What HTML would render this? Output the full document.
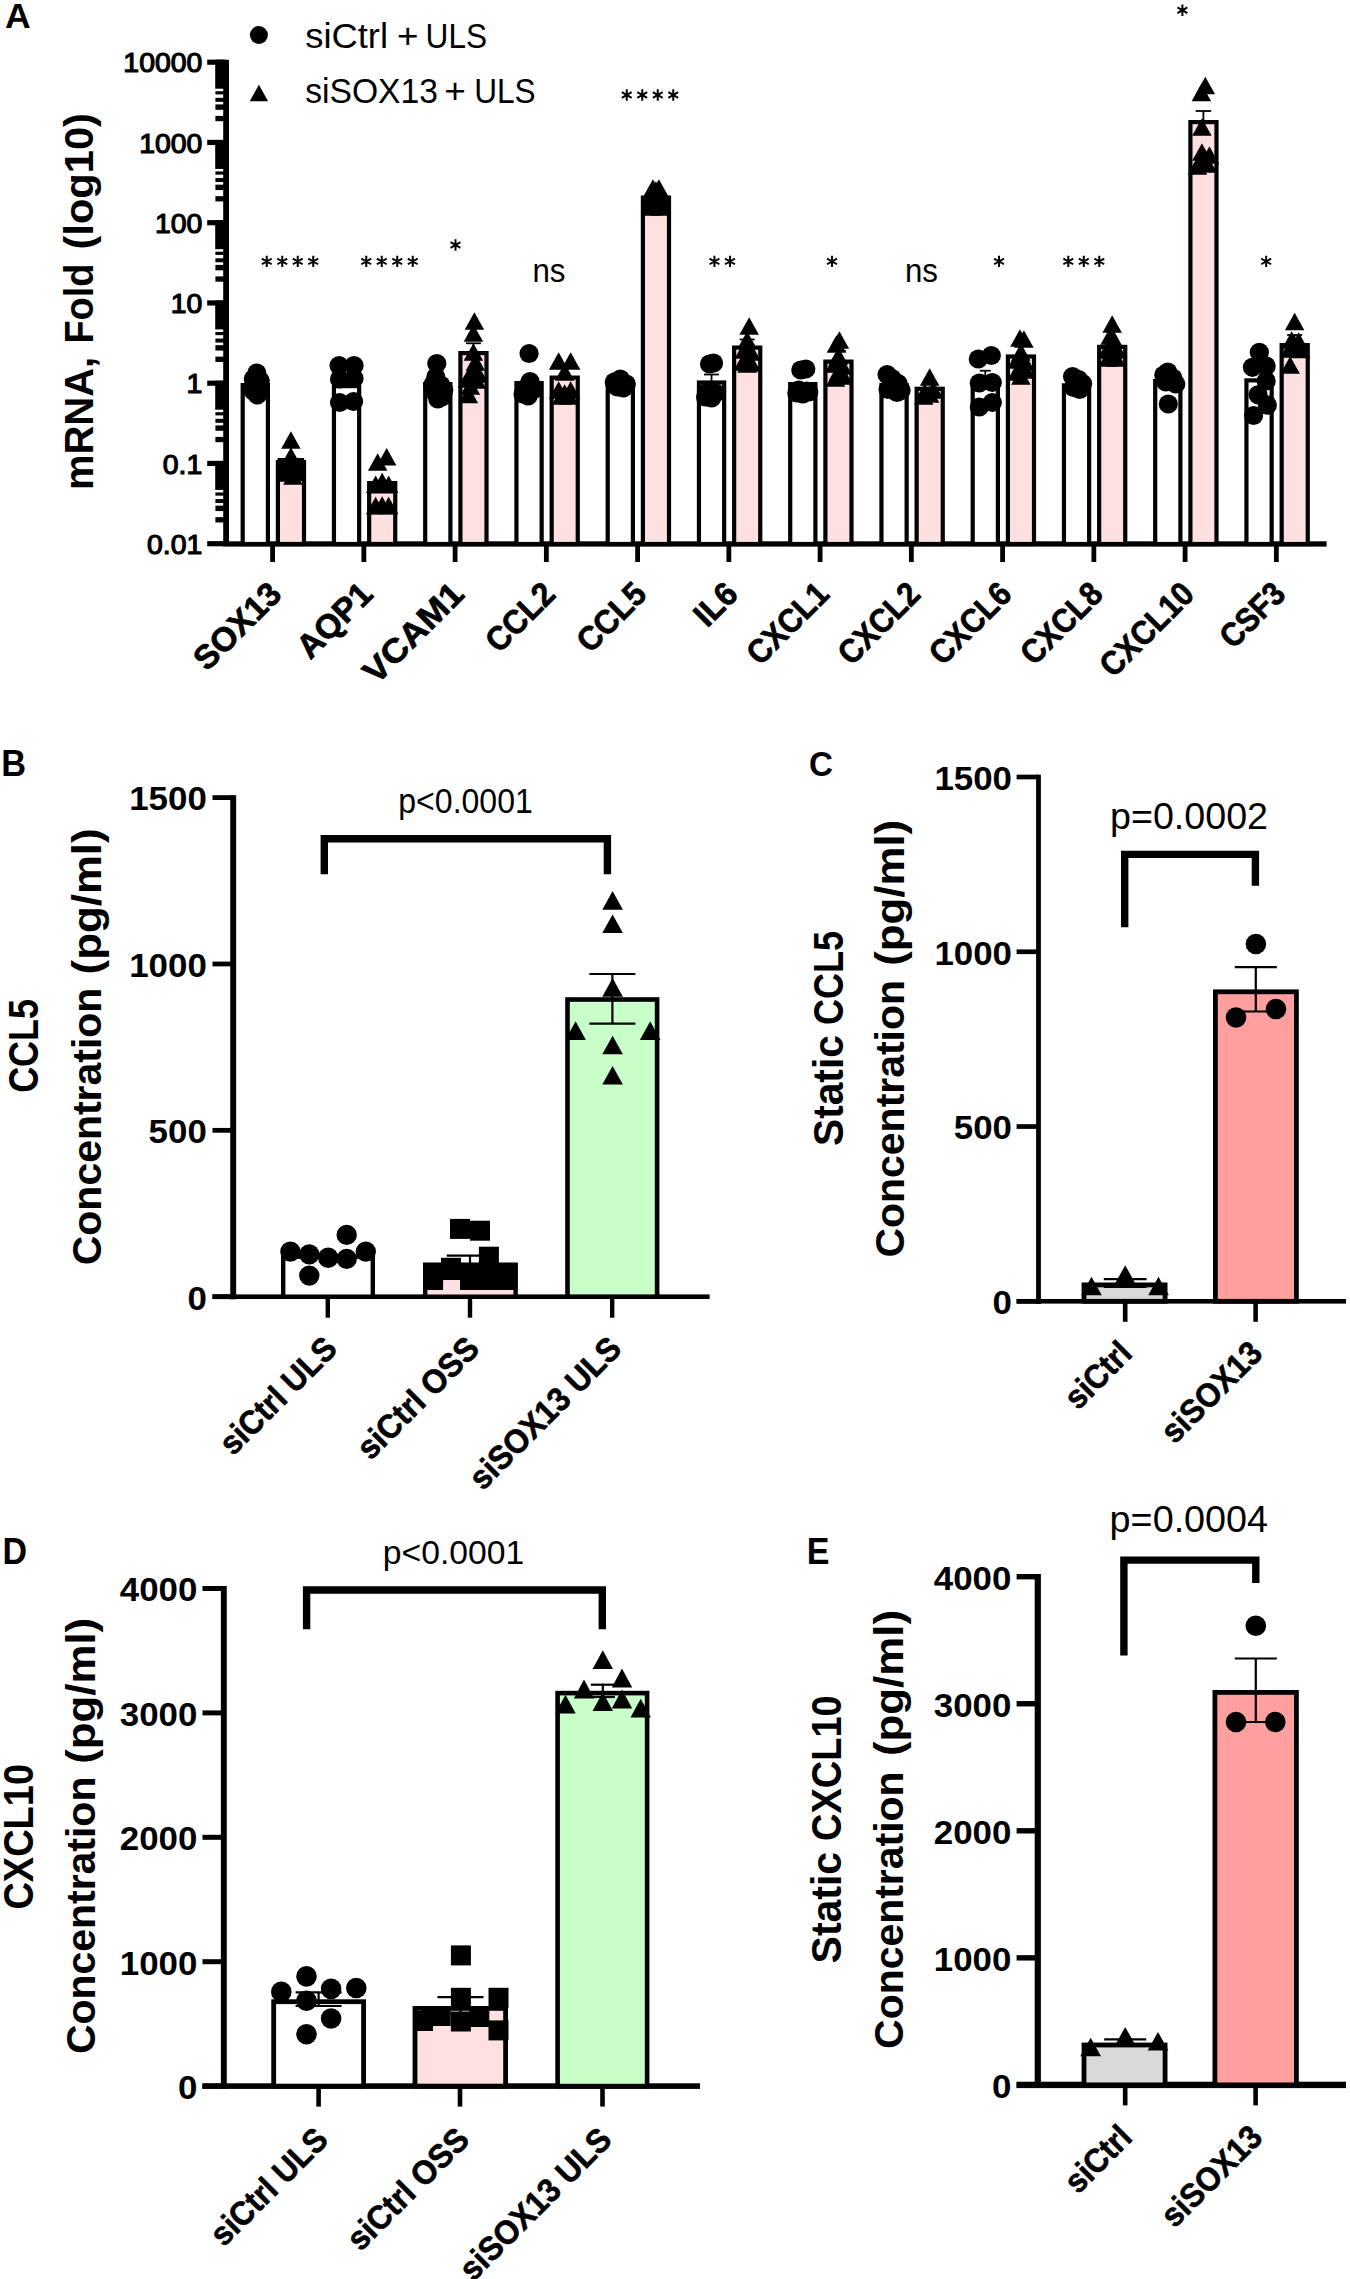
<!DOCTYPE html>
<html><head><meta charset="utf-8"><title>Figure</title>
<style>
html,body{margin:0;padding:0;background:#fff;}
svg{display:block;font-family:"Liberation Sans",sans-serif;}
</style></head>
<body>
<svg width="1350" height="2279" viewBox="0 0 1350 2279">
<rect width="1350" height="2279" fill="#fff"/>
<g id="pA">
<text transform="translate(4.9 27.6) scale(1 1)" x="0" y="0" font-size="35.6" font-weight="bold">A</text>
<circle cx="258.9" cy="35" r="9"/>
<path d="M258.9 84.75L268.1 101.25H249.7Z"/>
<text x="305.2" y="47.8" font-size="35.3" textLength="82.9" lengthAdjust="spacingAndGlyphs">siCtrl</text>
<text x="396.9" y="47.8" font-size="35.3" textLength="21.5" lengthAdjust="spacingAndGlyphs">+</text>
<text x="425.6" y="47.8" font-size="35.3" textLength="61.5" lengthAdjust="spacingAndGlyphs">ULS</text>
<text x="305.2" y="103" font-size="35.3" textLength="132.7" lengthAdjust="spacingAndGlyphs">siSOX13</text>
<text x="444.3" y="103" font-size="35.3" textLength="21.6" lengthAdjust="spacingAndGlyphs">+</text>
<text x="474.2" y="103" font-size="35.3" textLength="61.4" lengthAdjust="spacingAndGlyphs">ULS</text>
<text transform="translate(93.3 490.1) rotate(-90)" x="0" y="0" font-size="40.5" font-weight="bold" textLength="133.3" lengthAdjust="spacingAndGlyphs">mRNA,</text>
<text transform="translate(93.3 343.6) rotate(-90)" x="0" y="0" font-size="40.5" font-weight="bold" textLength="80" lengthAdjust="spacingAndGlyphs">Fold</text>
<text transform="translate(93.3 249.5) rotate(-90)" x="0" y="0" font-size="40.5" font-weight="bold" textLength="136.5" lengthAdjust="spacingAndGlyphs">(log10)</text>
<rect x="223.2" y="59.8" width="5.8" height="486.2" fill="#000"/>
<rect x="207.2" y="59.6" width="18" height="5.2" fill="#000"/>
<text x="202.3" y="72.4" font-size="28.4" text-anchor="end" stroke="#000" stroke-width="1.2">10000</text>
<rect x="215.2" y="59.7" width="9" height="29" fill="#000"/>
<rect x="215.4" y="91.2" width="9" height="3.2" fill="#000"/>
<rect x="215.4" y="97.8" width="9" height="4" fill="#000"/>
<rect x="215.4" y="104.4" width="9" height="5.4" fill="#000"/>
<rect x="215.4" y="115.9" width="9" height="5.3" fill="#000"/>
<rect x="207.2" y="139.85" width="18" height="5.2" fill="#000"/>
<text x="202.3" y="152.65" font-size="28.4" text-anchor="end" stroke="#000" stroke-width="1.2">1000</text>
<rect x="215.2" y="139.95" width="9" height="29" fill="#000"/>
<rect x="215.4" y="171.45" width="9" height="3.2" fill="#000"/>
<rect x="215.4" y="178.05" width="9" height="4" fill="#000"/>
<rect x="215.4" y="184.65" width="9" height="5.4" fill="#000"/>
<rect x="215.4" y="196.15" width="9" height="5.3" fill="#000"/>
<rect x="207.2" y="220.1" width="18" height="5.2" fill="#000"/>
<text x="202.3" y="232.9" font-size="28.4" text-anchor="end" stroke="#000" stroke-width="1.2">100</text>
<rect x="215.2" y="220.2" width="9" height="29" fill="#000"/>
<rect x="215.4" y="251.7" width="9" height="3.2" fill="#000"/>
<rect x="215.4" y="258.3" width="9" height="4" fill="#000"/>
<rect x="215.4" y="264.9" width="9" height="5.4" fill="#000"/>
<rect x="215.4" y="276.4" width="9" height="5.3" fill="#000"/>
<rect x="207.2" y="300.35" width="18" height="5.2" fill="#000"/>
<text x="202.3" y="313.15" font-size="28.4" text-anchor="end" stroke="#000" stroke-width="1.2">10</text>
<rect x="215.2" y="300.45" width="9" height="29" fill="#000"/>
<rect x="215.4" y="331.95" width="9" height="3.2" fill="#000"/>
<rect x="215.4" y="338.55" width="9" height="4" fill="#000"/>
<rect x="215.4" y="345.15" width="9" height="5.4" fill="#000"/>
<rect x="215.4" y="356.65" width="9" height="5.3" fill="#000"/>
<rect x="207.2" y="380.6" width="18" height="5.2" fill="#000"/>
<text x="202.3" y="393.4" font-size="28.4" text-anchor="end" stroke="#000" stroke-width="1.2">1</text>
<rect x="215.2" y="380.7" width="9" height="29" fill="#000"/>
<rect x="215.4" y="412.2" width="9" height="3.2" fill="#000"/>
<rect x="215.4" y="418.8" width="9" height="4" fill="#000"/>
<rect x="215.4" y="425.4" width="9" height="5.4" fill="#000"/>
<rect x="215.4" y="436.9" width="9" height="5.3" fill="#000"/>
<rect x="207.2" y="460.85" width="18" height="5.2" fill="#000"/>
<text x="202.3" y="473.65" font-size="28.4" text-anchor="end" stroke="#000" stroke-width="1.2">0.1</text>
<rect x="215.2" y="460.95" width="9" height="29" fill="#000"/>
<rect x="215.4" y="492.45" width="9" height="3.2" fill="#000"/>
<rect x="215.4" y="499.05" width="9" height="4" fill="#000"/>
<rect x="215.4" y="505.65" width="9" height="5.4" fill="#000"/>
<rect x="215.4" y="517.15" width="9" height="5.3" fill="#000"/>
<rect x="207.2" y="541.1" width="18" height="5.2" fill="#000"/>
<text x="202.3" y="553.9" font-size="28.4" text-anchor="end" stroke="#000" stroke-width="1.2">0.01</text>
<rect x="223.2" y="541.3" width="1103.4" height="5.3" fill="#000"/>
<rect x="270.2" y="544" width="4.8" height="18" fill="#000"/>
<rect x="242.7" y="385.1" width="25.2" height="158.9" fill="#fff" stroke="#000" stroke-width="4.2"/>
<rect x="277.9" y="462.1" width="26.1" height="81.9" fill="#ffe0e0" stroke="#000" stroke-width="4.2"/>
<text transform="translate(275.3 587.8) rotate(-45)" x="0" y="11.56" font-size="33.5" text-anchor="end" font-weight="bold" stroke="#000" stroke-width="0.7" stroke-linejoin="round" textLength="108" lengthAdjust="spacingAndGlyphs">SOX13</text>
<rect x="361.45" y="544" width="4.8" height="18" fill="#000"/>
<rect x="333.95" y="386.1" width="25.2" height="157.9" fill="#fff" stroke="#000" stroke-width="4.2"/>
<rect x="369.15" y="483.1" width="26.1" height="60.9" fill="#ffe0e0" stroke="#000" stroke-width="4.2"/>
<text transform="translate(366.55 587.8) rotate(-45)" x="0" y="11.56" font-size="33.5" text-anchor="end" font-weight="bold" stroke="#000" stroke-width="0.7" stroke-linejoin="round">AQP1</text>
<rect x="452.7" y="544" width="4.8" height="18" fill="#000"/>
<rect x="425.2" y="384.1" width="25.2" height="159.9" fill="#fff" stroke="#000" stroke-width="4.2"/>
<rect x="460.4" y="353.1" width="26.1" height="190.9" fill="#ffe0e0" stroke="#000" stroke-width="4.2"/>
<text transform="translate(457.8 587.8) rotate(-45)" x="0" y="11.56" font-size="33.5" text-anchor="end" font-weight="bold" stroke="#000" stroke-width="0.7" stroke-linejoin="round" textLength="126.5" lengthAdjust="spacingAndGlyphs">VCAM1</text>
<rect x="543.95" y="544" width="4.8" height="18" fill="#000"/>
<rect x="516.45" y="383.1" width="25.2" height="160.9" fill="#fff" stroke="#000" stroke-width="4.2"/>
<rect x="551.65" y="377.6" width="26.1" height="166.4" fill="#ffe0e0" stroke="#000" stroke-width="4.2"/>
<text transform="translate(549.05 587.8) rotate(-45)" x="0" y="11.56" font-size="33.5" text-anchor="end" font-weight="bold" stroke="#000" stroke-width="0.7" stroke-linejoin="round" textLength="82.5" lengthAdjust="spacingAndGlyphs">CCL2</text>
<rect x="635.2" y="544" width="4.8" height="18" fill="#000"/>
<rect x="607.7" y="385.1" width="25.2" height="158.9" fill="#fff" stroke="#000" stroke-width="4.2"/>
<rect x="642.9" y="197.6" width="26.1" height="346.4" fill="#ffe0e0" stroke="#000" stroke-width="4.2"/>
<text transform="translate(640.3 587.8) rotate(-45)" x="0" y="11.56" font-size="33.5" text-anchor="end" font-weight="bold" stroke="#000" stroke-width="0.7" stroke-linejoin="round" textLength="82.5" lengthAdjust="spacingAndGlyphs">CCL5</text>
<rect x="726.45" y="544" width="4.8" height="18" fill="#000"/>
<rect x="698.95" y="382.5" width="25.2" height="161.5" fill="#fff" stroke="#000" stroke-width="4.2"/>
<rect x="734.15" y="347.6" width="26.1" height="196.4" fill="#ffe0e0" stroke="#000" stroke-width="4.2"/>
<text transform="translate(731.55 587.8) rotate(-45)" x="0" y="11.56" font-size="33.5" text-anchor="end" font-weight="bold" stroke="#000" stroke-width="0.7" stroke-linejoin="round" textLength="46" lengthAdjust="spacingAndGlyphs">IL6</text>
<rect x="817.7" y="544" width="4.8" height="18" fill="#000"/>
<rect x="790.2" y="384.1" width="25.2" height="159.9" fill="#fff" stroke="#000" stroke-width="4.2"/>
<rect x="825.4" y="361.6" width="26.1" height="182.4" fill="#ffe0e0" stroke="#000" stroke-width="4.2"/>
<text transform="translate(822.8 587.8) rotate(-45)" x="0" y="11.56" font-size="33.5" text-anchor="end" font-weight="bold" stroke="#000" stroke-width="0.7" stroke-linejoin="round" textLength="100" lengthAdjust="spacingAndGlyphs">CXCL1</text>
<rect x="908.95" y="544" width="4.8" height="18" fill="#000"/>
<rect x="881.45" y="385.1" width="25.2" height="158.9" fill="#fff" stroke="#000" stroke-width="4.2"/>
<rect x="916.65" y="388.8" width="26.1" height="155.2" fill="#ffe0e0" stroke="#000" stroke-width="4.2"/>
<text transform="translate(914.05 587.8) rotate(-45)" x="0" y="11.56" font-size="33.5" text-anchor="end" font-weight="bold" stroke="#000" stroke-width="0.7" stroke-linejoin="round" textLength="100" lengthAdjust="spacingAndGlyphs">CXCL2</text>
<rect x="1000.2" y="544" width="4.8" height="18" fill="#000"/>
<rect x="972.7" y="381.6" width="25.2" height="162.4" fill="#fff" stroke="#000" stroke-width="4.2"/>
<rect x="1007.9" y="356.5" width="26.1" height="187.5" fill="#ffe0e0" stroke="#000" stroke-width="4.2"/>
<text transform="translate(1005.3 587.8) rotate(-45)" x="0" y="11.56" font-size="33.5" text-anchor="end" font-weight="bold" stroke="#000" stroke-width="0.7" stroke-linejoin="round" textLength="100" lengthAdjust="spacingAndGlyphs">CXCL6</text>
<rect x="1091.45" y="544" width="4.8" height="18" fill="#000"/>
<rect x="1063.95" y="385.4" width="25.2" height="158.6" fill="#fff" stroke="#000" stroke-width="4.2"/>
<rect x="1099.15" y="346.9" width="26.1" height="197.1" fill="#ffe0e0" stroke="#000" stroke-width="4.2"/>
<text transform="translate(1096.55 587.8) rotate(-45)" x="0" y="11.56" font-size="33.5" text-anchor="end" font-weight="bold" stroke="#000" stroke-width="0.7" stroke-linejoin="round" textLength="100" lengthAdjust="spacingAndGlyphs">CXCL8</text>
<rect x="1182.7" y="544" width="4.8" height="18" fill="#000"/>
<rect x="1155.2" y="381.1" width="25.2" height="162.9" fill="#fff" stroke="#000" stroke-width="4.2"/>
<rect x="1190.4" y="122.1" width="26.1" height="421.9" fill="#ffe0e0" stroke="#000" stroke-width="4.2"/>
<text transform="translate(1187.8 587.8) rotate(-45)" x="0" y="11.56" font-size="33.5" text-anchor="end" font-weight="bold" stroke="#000" stroke-width="0.7" stroke-linejoin="round" textLength="117" lengthAdjust="spacingAndGlyphs">CXCL10</text>
<rect x="1273.95" y="544" width="4.8" height="18" fill="#000"/>
<rect x="1246.45" y="380.4" width="25.2" height="163.6" fill="#fff" stroke="#000" stroke-width="4.2"/>
<rect x="1281.65" y="345.1" width="26.1" height="198.9" fill="#ffe0e0" stroke="#000" stroke-width="4.2"/>
<text transform="translate(1279.05 587.8) rotate(-45)" x="0" y="11.56" font-size="33.5" text-anchor="end" font-weight="bold" stroke="#000" stroke-width="0.7" stroke-linejoin="round" textLength="76.5" lengthAdjust="spacingAndGlyphs">CSF3</text>
<circle cx="256.8" cy="373" r="9.6"/>
<circle cx="260.3" cy="381" r="9.6"/>
<circle cx="253.3" cy="379" r="9.6"/>
<circle cx="260.3" cy="388" r="9.6"/>
<circle cx="253.3" cy="391" r="9.6"/>
<circle cx="257.3" cy="395" r="9.6"/>
<circle cx="255.3" cy="385" r="9.6"/>
<path d="M290.9 431.25L300.65 448.75H281.15Z"/>
<path d="M290.9 447.25L300.65 464.75H281.15Z"/>
<path d="M287.9 455.25L297.65 472.75H278.15Z"/>
<path d="M293.9 459.25L303.65 476.75H284.15Z"/>
<path d="M288.9 464.25L298.65 481.75H279.15Z"/>
<path d="M292.9 467.25L302.65 484.75H283.15Z"/>
<path d="M290.9 451.25L300.65 468.75H281.15Z"/>
<circle cx="339.05" cy="365.6" r="9.6"/>
<circle cx="354.05" cy="365.6" r="9.6"/>
<circle cx="339.55" cy="379" r="9.6"/>
<circle cx="354.05" cy="378.5" r="9.6"/>
<circle cx="339.55" cy="402.5" r="9.6"/>
<circle cx="353.55" cy="401.5" r="9.6"/>
<path d="M377.65 453.25L387.4 470.75H367.9Z"/>
<path d="M386.65 447.95L396.4 465.45H376.9Z"/>
<path d="M382.15 472.75L391.9 490.25H372.4Z"/>
<path d="M375.65 475.55L385.4 493.05H365.9Z"/>
<path d="M382.15 475.55L391.9 493.05H372.4Z"/>
<path d="M388.65 475.55L398.4 493.05H378.9Z"/>
<path d="M375.65 496.75L385.4 514.25H365.9Z"/>
<path d="M382.15 496.25L391.9 513.75H372.4Z"/>
<path d="M388.65 496.75L398.4 514.25H378.9Z"/>
<circle cx="436.8" cy="363.5" r="9.6"/>
<circle cx="435.8" cy="377" r="9.6"/>
<circle cx="440.8" cy="385" r="9.6"/>
<circle cx="434.8" cy="392" r="9.6"/>
<circle cx="441.8" cy="397" r="9.6"/>
<circle cx="437.8" cy="399" r="9.6"/>
<circle cx="443.8" cy="390" r="9.6"/>
<circle cx="432.8" cy="385" r="9.6"/>
<path d="M474.4 312.25L484.15 329.75H464.65Z"/>
<path d="M473.4 324.25L483.15 341.75H463.65Z"/>
<path d="M473.4 343.25L483.15 360.75H463.65Z"/>
<path d="M475.4 353.25L485.15 370.75H465.65Z"/>
<path d="M471.4 363.25L481.15 380.75H461.65Z"/>
<path d="M476.4 371.25L486.15 388.75H466.65Z"/>
<path d="M470.4 377.25L480.15 394.75H460.65Z"/>
<path d="M468.4 385.75L478.15 403.25H458.65Z"/>
<path d="M473.4 360.25L483.15 377.75H463.65Z"/>
<path d="M478.4 365.25L488.15 382.75H468.65Z"/>
<path d="M467.4 370.25L477.15 387.75H457.65Z"/>
<circle cx="529.05" cy="353.5" r="9.6"/>
<circle cx="530.05" cy="381.5" r="9.6"/>
<circle cx="526.05" cy="388" r="9.6"/>
<circle cx="533.05" cy="390" r="9.6"/>
<circle cx="528.05" cy="396" r="9.6"/>
<circle cx="523.05" cy="394" r="9.6"/>
<path d="M558.65 352.25L568.4 369.75H548.9Z"/>
<path d="M570.65 352.25L580.4 369.75H560.9Z"/>
<path d="M564.65 363.25L574.4 380.75H554.9Z"/>
<path d="M558.65 381.25L568.4 398.75H548.9Z"/>
<path d="M570.65 381.25L580.4 398.75H560.9Z"/>
<path d="M564.65 384.25L574.4 401.75H554.9Z"/>
<path d="M561.65 387.25L571.4 404.75H551.9Z"/>
<path d="M568.65 387.25L578.4 404.75H558.9Z"/>
<circle cx="614.3" cy="382" r="9.6"/>
<circle cx="620.3" cy="379" r="9.6"/>
<circle cx="626.3" cy="384" r="9.6"/>
<circle cx="623.3" cy="388" r="9.6"/>
<circle cx="617.3" cy="387" r="9.6"/>
<path d="M652.9 179.25L662.65 196.75H643.15Z"/>
<path d="M658.9 179.25L668.65 196.75H649.15Z"/>
<path d="M655.9 181.25L665.65 198.75H646.15Z"/>
<path d="M650.9 190.25L660.65 207.75H641.15Z"/>
<path d="M660.9 190.25L670.65 207.75H651.15Z"/>
<path d="M655.9 194.25L665.65 211.75H646.15Z"/>
<path d="M651.9 198.25L661.65 215.75H642.15Z"/>
<path d="M659.9 198.25L669.65 215.75H650.15Z"/>
<circle cx="709.55" cy="364" r="9.6"/>
<circle cx="713.55" cy="363" r="9.6"/>
<circle cx="707.55" cy="392" r="9.6"/>
<circle cx="715.55" cy="393" r="9.6"/>
<circle cx="711.55" cy="398" r="9.6"/>
<circle cx="705.55" cy="397" r="9.6"/>
<path d="M749.15 317.25L758.9 334.75H739.4Z"/>
<path d="M747.15 331.25L756.9 348.75H737.4Z"/>
<path d="M744.15 341.25L753.9 358.75H734.4Z"/>
<path d="M751.15 343.25L760.9 360.75H741.4Z"/>
<path d="M747.15 349.25L756.9 366.75H737.4Z"/>
<path d="M743.15 353.25L752.9 370.75H733.4Z"/>
<path d="M751.15 354.25L760.9 371.75H741.4Z"/>
<path d="M747.15 355.25L756.9 372.75H737.4Z"/>
<circle cx="800.8" cy="370" r="9.6"/>
<circle cx="805.8" cy="369" r="9.6"/>
<circle cx="798.8" cy="390" r="9.6"/>
<circle cx="806.8" cy="391" r="9.6"/>
<circle cx="802.8" cy="394" r="9.6"/>
<circle cx="796.8" cy="393" r="9.6"/>
<circle cx="808.8" cy="392" r="9.6"/>
<path d="M839.4 331.25L849.15 348.75H829.65Z"/>
<path d="M836.4 335.25L846.15 352.75H826.65Z"/>
<path d="M838.4 347.25L848.15 364.75H828.65Z"/>
<path d="M834.4 355.25L844.15 372.75H824.65Z"/>
<path d="M842.4 357.25L852.15 374.75H832.65Z"/>
<path d="M838.4 363.25L848.15 380.75H828.65Z"/>
<path d="M835.4 369.25L845.15 386.75H825.65Z"/>
<path d="M843.4 367.25L853.15 384.75H833.65Z"/>
<circle cx="887.05" cy="374.5" r="9.6"/>
<circle cx="892.05" cy="378.5" r="9.6"/>
<circle cx="898.05" cy="383.5" r="9.6"/>
<circle cx="888.05" cy="389.5" r="9.6"/>
<circle cx="897.05" cy="392.5" r="9.6"/>
<circle cx="901.05" cy="390.5" r="9.6"/>
<path d="M929.65 368.25L939.4 385.75H919.9Z"/>
<path d="M924.65 383.25L934.4 400.75H914.9Z"/>
<path d="M933.65 381.25L943.4 398.75H923.9Z"/>
<path d="M929.65 385.25L939.4 402.75H919.9Z"/>
<path d="M923.65 387.25L933.4 404.75H913.9Z"/>
<circle cx="978.3" cy="359" r="9.6"/>
<circle cx="991.3" cy="355.5" r="9.6"/>
<circle cx="979.3" cy="383" r="9.6"/>
<circle cx="992.3" cy="382.5" r="9.6"/>
<circle cx="979.3" cy="407" r="9.6"/>
<circle cx="992.3" cy="402.5" r="9.6"/>
<path d="M1019.9 329.25L1029.65 346.75H1010.15Z"/>
<path d="M1023.9 330.25L1033.65 347.75H1014.15Z"/>
<path d="M1020.9 343.25L1030.65 360.75H1011.15Z"/>
<path d="M1016.9 351.25L1026.65 368.75H1007.15Z"/>
<path d="M1024.9 353.25L1034.65 370.75H1015.15Z"/>
<path d="M1020.9 359.25L1030.65 376.75H1011.15Z"/>
<path d="M1016.9 363.25L1026.65 380.75H1007.15Z"/>
<path d="M1025.9 361.25L1035.65 378.75H1016.15Z"/>
<path d="M1020.9 367.25L1030.65 384.75H1011.15Z"/>
<circle cx="1072.55" cy="376.5" r="9.6"/>
<circle cx="1078.55" cy="379.5" r="9.6"/>
<circle cx="1082.55" cy="383.5" r="9.6"/>
<circle cx="1073.55" cy="387.5" r="9.6"/>
<circle cx="1079.55" cy="389.5" r="9.6"/>
<path d="M1112.15 315.25L1121.9 332.75H1102.4Z"/>
<path d="M1110.15 327.25L1119.9 344.75H1100.4Z"/>
<path d="M1114.15 331.25L1123.9 348.75H1104.4Z"/>
<path d="M1107.15 341.25L1116.9 358.75H1097.4Z"/>
<path d="M1117.15 341.25L1126.9 358.75H1107.4Z"/>
<path d="M1112.15 345.25L1121.9 362.75H1102.4Z"/>
<path d="M1108.15 349.25L1117.9 366.75H1098.4Z"/>
<path d="M1116.15 349.25L1125.9 366.75H1106.4Z"/>
<circle cx="1163.8" cy="375" r="9.6"/>
<circle cx="1167.8" cy="372" r="9.6"/>
<circle cx="1172.8" cy="378" r="9.6"/>
<circle cx="1175.8" cy="384" r="9.6"/>
<circle cx="1165.8" cy="382" r="9.6"/>
<circle cx="1168.3" cy="404" r="9.6"/>
<path d="M1205.3 76.75L1215.05 94.25H1195.55Z"/>
<path d="M1201.4 83.75L1211.15 101.25H1191.65Z"/>
<path d="M1201.9 118.25L1211.65 135.75H1192.15Z"/>
<path d="M1201.9 143.25L1211.65 160.75H1192.15Z"/>
<path d="M1209.4 146.25L1219.15 163.75H1199.65Z"/>
<path d="M1199.4 153.25L1209.15 170.75H1189.65Z"/>
<path d="M1207.4 155.25L1217.15 172.75H1197.65Z"/>
<path d="M1197.4 157.25L1207.15 174.75H1187.65Z"/>
<circle cx="1259.35" cy="352.3" r="9.6"/>
<circle cx="1252.45" cy="367.3" r="9.6"/>
<circle cx="1266.15" cy="366.1" r="9.6"/>
<circle cx="1266.15" cy="381" r="9.6"/>
<circle cx="1258.05" cy="394.8" r="9.6"/>
<circle cx="1267.35" cy="405.1" r="9.6"/>
<circle cx="1253.55" cy="415.5" r="9.6"/>
<path d="M1294.65 312.75L1304.4 330.25H1284.9Z"/>
<path d="M1289.65 340.25L1299.4 357.75H1279.9Z"/>
<path d="M1295.65 339.25L1305.4 356.75H1285.9Z"/>
<path d="M1300.65 340.75L1310.4 358.25H1290.9Z"/>
<path d="M1291.65 331.25L1301.4 348.75H1281.9Z"/>
<path d="M1298.65 332.25L1308.4 349.75H1288.9Z"/>
<path d="M1290.15 356.25L1299.9 373.75H1280.4Z"/>
<rect x="277.6" y="458" width="26.5" height="23" fill="#000"/>
<rect x="368.85" y="481" width="26.5" height="12.5" fill="#000"/>
<rect x="368.85" y="507" width="26.5" height="7.5" fill="#000"/>
<rect x="642.6" y="196" width="26.5" height="19" fill="#000"/>
<path d="M266.75 255.7L266.75 267.1M261.81 258.55L271.69 264.25M271.69 258.55L261.81 264.25M282.25 255.7L282.25 267.1M277.31 258.55L287.19 264.25M287.19 258.55L277.31 264.25M297.75 255.7L297.75 267.1M292.81 258.55L302.69 264.25M302.69 258.55L292.81 264.25M313.25 255.7L313.25 267.1M308.31 258.55L318.19 264.25M318.19 258.55L308.31 264.25" stroke="#000" stroke-width="2" fill="none"/>
<path d="M366.25 255.7L366.25 267.1M361.31 258.55L371.19 264.25M371.19 258.55L361.31 264.25M381.75 255.7L381.75 267.1M376.81 258.55L386.69 264.25M386.69 258.55L376.81 264.25M397.25 255.7L397.25 267.1M392.31 258.55L402.19 264.25M402.19 258.55L392.31 264.25M412.75 255.7L412.75 267.1M407.81 258.55L417.69 264.25M417.69 258.55L407.81 264.25" stroke="#000" stroke-width="2" fill="none"/>
<path d="M455.5 239.3L455.5 250.7M450.56 242.15L460.44 247.85M460.44 242.15L450.56 247.85" stroke="#000" stroke-width="2" fill="none"/>
<path d="M626.75 89.3L626.75 100.7M621.81 92.15L631.69 97.85M631.69 92.15L621.81 97.85M642.25 89.3L642.25 100.7M637.31 92.15L647.19 97.85M647.19 92.15L637.31 97.85M657.75 89.3L657.75 100.7M652.81 92.15L662.69 97.85M662.69 92.15L652.81 97.85M673.25 89.3L673.25 100.7M668.31 92.15L678.19 97.85M678.19 92.15L668.31 97.85" stroke="#000" stroke-width="2" fill="none"/>
<path d="M714.45 255.7L714.45 267.1M709.51 258.55L719.39 264.25M719.39 258.55L709.51 264.25M729.95 255.7L729.95 267.1M725.01 258.55L734.89 264.25M734.89 258.55L725.01 264.25" stroke="#000" stroke-width="2" fill="none"/>
<path d="M832 255.7L832 267.1M827.06 258.55L836.94 264.25M836.94 258.55L827.06 264.25" stroke="#000" stroke-width="2" fill="none"/>
<path d="M999 255.7L999 267.1M994.06 258.55L1003.94 264.25M1003.94 258.55L994.06 264.25" stroke="#000" stroke-width="2" fill="none"/>
<path d="M1068.3 255.7L1068.3 267.1M1063.36 258.55L1073.24 264.25M1073.24 258.55L1063.36 264.25M1083.8 255.7L1083.8 267.1M1078.86 258.55L1088.74 264.25M1088.74 258.55L1078.86 264.25M1099.3 255.7L1099.3 267.1M1094.36 258.55L1104.24 264.25M1104.24 258.55L1094.36 264.25" stroke="#000" stroke-width="2" fill="none"/>
<path d="M1182.4 4.6L1182.4 16M1177.46 7.45L1187.34 13.15M1187.34 7.45L1177.46 13.15" stroke="#000" stroke-width="2" fill="none"/>
<path d="M1266.2 255.7L1266.2 267.1M1261.26 258.55L1271.14 264.25M1271.14 258.55L1261.26 264.25" stroke="#000" stroke-width="2" fill="none"/>
<text x="549" y="282" font-size="33" text-anchor="middle" textLength="33" lengthAdjust="spacingAndGlyphs">ns</text>
<text x="921.5" y="282" font-size="33" text-anchor="middle" textLength="33" lengthAdjust="spacingAndGlyphs">ns</text>
<path d="M1203.4 111L1203.4 122" stroke="#000" stroke-width="1.8" fill="none"/>
<path d="M1195.65 111L1211.15 111" stroke="#000" stroke-width="1.8" fill="none"/>
<path d="M1195.65 122L1211.15 122" stroke="#000" stroke-width="1.8" fill="none"/>
<path d="M711.55 374.5L711.55 383" stroke="#000" stroke-width="1.8" fill="none"/>
<path d="M704.05 374.5L719.05 374.5" stroke="#000" stroke-width="1.8" fill="none"/>
<path d="M704.05 383L719.05 383" stroke="#000" stroke-width="1.8" fill="none"/>
<path d="M747.15 339.5L747.15 348" stroke="#000" stroke-width="1.8" fill="none"/>
<path d="M739.65 339.5L754.65 339.5" stroke="#000" stroke-width="1.8" fill="none"/>
<path d="M739.65 348L754.65 348" stroke="#000" stroke-width="1.8" fill="none"/>
<path d="M985.3 370.7L985.3 381" stroke="#000" stroke-width="1.8" fill="none"/>
<path d="M979.8 370.7L990.8 370.7" stroke="#000" stroke-width="1.8" fill="none"/>
<path d="M979.8 381L990.8 381" stroke="#000" stroke-width="1.8" fill="none"/>
<path d="M473.4 343.3L473.4 352" stroke="#000" stroke-width="1.8" fill="none"/>
<path d="M465.9 343.3L480.9 343.3" stroke="#000" stroke-width="1.8" fill="none"/>
<path d="M465.9 352L480.9 352" stroke="#000" stroke-width="1.8" fill="none"/>
<path d="M838.4 351L838.4 361" stroke="#000" stroke-width="1.8" fill="none"/>
<path d="M830.9 351L845.9 351" stroke="#000" stroke-width="1.8" fill="none"/>
<path d="M830.9 361L845.9 361" stroke="#000" stroke-width="1.8" fill="none"/>
<path d="M1294.65 335L1294.65 345" stroke="#000" stroke-width="1.8" fill="none"/>
<path d="M1287.15 335L1302.15 335" stroke="#000" stroke-width="1.8" fill="none"/>
<path d="M1287.15 345L1302.15 345" stroke="#000" stroke-width="1.8" fill="none"/>
</g>
<g id="pB">
<text transform="translate(1.2 776) scale(0.94 1)" x="0" y="0" font-size="36.6" font-weight="bold">B</text>
<text transform="translate(38.2 1092.8) rotate(-90)" x="0" y="0" font-size="42.5" font-weight="bold" textLength="93.7" lengthAdjust="spacingAndGlyphs">CCL5</text>
<text transform="translate(100.7 1265.2) rotate(-90)" x="0" y="0" font-size="41" font-weight="bold" textLength="277.5" lengthAdjust="spacingAndGlyphs">Concentration</text>
<text transform="translate(100.7 974.4) rotate(-90)" x="0" y="0" font-size="41" font-weight="bold" textLength="146" lengthAdjust="spacingAndGlyphs">(pg/ml)</text>
<rect x="230.25" y="795.19" width="5.9" height="504.11" fill="#000"/>
<rect x="212.5" y="795.19" width="20.7" height="4.8" fill="#000"/>
<text x="206.8" y="810.44" font-size="34" font-weight="bold" text-anchor="end" textLength="77.6" lengthAdjust="spacingAndGlyphs">1500</text>
<rect x="212.5" y="961.56" width="20.7" height="4.8" fill="#000"/>
<text x="206.8" y="976.81" font-size="34" font-weight="bold" text-anchor="end" textLength="77.6" lengthAdjust="spacingAndGlyphs">1000</text>
<rect x="212.5" y="1127.93" width="20.7" height="4.8" fill="#000"/>
<text x="206.8" y="1143.18" font-size="34" font-weight="bold" text-anchor="end" textLength="58.2" lengthAdjust="spacingAndGlyphs">500</text>
<rect x="212.5" y="1294.3" width="20.7" height="4.8" fill="#000"/>
<text x="206.8" y="1309.55" font-size="34" font-weight="bold" text-anchor="end" textLength="19.4" lengthAdjust="spacingAndGlyphs">0</text>
<rect x="212.5" y="1294.4" width="497.1" height="4.6" fill="#000"/>
<rect x="325.6" y="1296.7" width="4.4" height="21" fill="#000"/>
<rect x="467.8" y="1296.7" width="4.4" height="21" fill="#000"/>
<rect x="610" y="1296.7" width="4.4" height="21" fill="#000"/>
<rect x="283.2" y="1256.7" width="89.6" height="40" fill="#fff" stroke="#000" stroke-width="4.4"/>
<rect x="425.2" y="1264.9" width="90.4" height="31.8" fill="#ffe0e0" stroke="#000" stroke-width="4.4"/>
<rect x="567.5" y="999.5" width="89.6" height="297.2" fill="#c8ffc8" stroke="#000" stroke-width="4.6"/>
<path d="M470 1255.6L470 1269.5" stroke="#000" stroke-width="2.2" fill="none"/>
<path d="M446.7 1255.6L493.3 1255.6" stroke="#000" stroke-width="2.2" fill="none"/>
<path d="M446.7 1269.5L493.3 1269.5" stroke="#000" stroke-width="2.2" fill="none"/>
<path d="M612.4 974L612.4 1023.6" stroke="#000" stroke-width="2.2" fill="none"/>
<path d="M589.4 974L635.4 974" stroke="#000" stroke-width="2.2" fill="none"/>
<path d="M589.4 1023.6L635.4 1023.6" stroke="#000" stroke-width="2.2" fill="none"/>
<circle cx="290.4" cy="1251.6" r="10.2"/>
<circle cx="309.3" cy="1254.4" r="10.2"/>
<circle cx="309.3" cy="1275.6" r="10.2"/>
<circle cx="328.2" cy="1257.8" r="10.2"/>
<circle cx="346.7" cy="1234.9" r="10.2"/>
<circle cx="346.7" cy="1258.9" r="10.2"/>
<circle cx="365.8" cy="1251.6" r="10.2"/>
<rect x="450" y="1218.9" width="20" height="20"/>
<rect x="470" y="1220.7" width="20" height="20"/>
<rect x="478.9" y="1246.7" width="20" height="20"/>
<rect x="423.3" y="1270" width="20" height="20"/>
<rect x="441" y="1257.8" width="20" height="20"/>
<rect x="460" y="1270" width="20" height="20"/>
<rect x="479.5" y="1270" width="20" height="20"/>
<rect x="497.5" y="1270" width="20" height="20"/>
<rect x="441" y="1260" width="20" height="20"/>
<rect x="423.3" y="1262.7" width="20" height="20"/>
<rect x="497.5" y="1262.7" width="20" height="20"/>
<rect x="460" y="1262.7" width="20" height="20"/>
<rect x="479.5" y="1262.7" width="20" height="20"/>
<rect x="443.3" y="1280" width="15.5" height="10.5" fill="#ffe0e0"/>
<path d="M612.6 891.1L622.9 909.7H602.3Z"/>
<path d="M612.6 914.4L622.9 933H602.3Z"/>
<path d="M612.6 978.1L622.9 996.7H602.3Z"/>
<path d="M612.6 1035.7L622.9 1054.3H602.3Z"/>
<path d="M612.6 1066L622.9 1084.6H602.3Z"/>
<path d="M575.6 1021.3L585.9 1039.9H565.3Z"/>
<path d="M650.2 1021.3L660.5 1039.9H639.9Z"/>
<path d="M324.3 874.2V838.8H607.4V874.2" fill="none" stroke="#000" stroke-width="7.4" stroke-linejoin="miter"/>
<text x="398.3" y="813.3" font-size="34.5" textLength="134.5" lengthAdjust="spacingAndGlyphs">p&lt;0.0001</text>
<text transform="translate(330.8 1342.5) rotate(-45)" x="0" y="11.56" font-size="33.5" text-anchor="end" font-weight="bold" stroke="#000" stroke-width="0.6" stroke-linejoin="round" textLength="150" lengthAdjust="spacingAndGlyphs">siCtrl ULS</text>
<text transform="translate(473 1342.5) rotate(-45)" x="0" y="11.56" font-size="33.5" text-anchor="end" font-weight="bold" stroke="#000" stroke-width="0.6" stroke-linejoin="round" textLength="156.5" lengthAdjust="spacingAndGlyphs">siCtrl OSS</text>
<text transform="translate(615.2 1342.5) rotate(-45)" x="0" y="11.56" font-size="33.5" text-anchor="end" font-weight="bold" stroke="#000" stroke-width="0.6" stroke-linejoin="round" textLength="199" lengthAdjust="spacingAndGlyphs">siSOX13 ULS</text>
</g>
<g id="pC">
<text transform="translate(808.9 776) scale(0.94 1)" x="0" y="0" font-size="35.4" font-weight="bold">C</text>
<text transform="translate(842.8 1146) rotate(-90)" x="0" y="0" font-size="42.5" font-weight="bold" textLength="110.9" lengthAdjust="spacingAndGlyphs">Static</text>
<text transform="translate(842.8 1025.1) rotate(-90)" x="0" y="0" font-size="42.5" font-weight="bold" textLength="94.1" lengthAdjust="spacingAndGlyphs">CCL5</text>
<text transform="translate(904.3 1257.5) rotate(-90)" x="0" y="0" font-size="41" font-weight="bold" textLength="277.5" lengthAdjust="spacingAndGlyphs">Concentration</text>
<text transform="translate(904.3 965.8) rotate(-90)" x="0" y="0" font-size="41" font-weight="bold" textLength="146" lengthAdjust="spacingAndGlyphs">(pg/ml)</text>
<rect x="1036.1" y="774.64" width="4.8" height="529.26" fill="#000"/>
<rect x="1016.6" y="774.64" width="21.9" height="4.7" fill="#000"/>
<text x="1012" y="789.84" font-size="34" font-weight="bold" text-anchor="end" textLength="77.6" lengthAdjust="spacingAndGlyphs">1500</text>
<rect x="1016.6" y="949.41" width="21.9" height="4.7" fill="#000"/>
<text x="1012" y="964.61" font-size="34" font-weight="bold" text-anchor="end" textLength="77.6" lengthAdjust="spacingAndGlyphs">1000</text>
<rect x="1016.6" y="1124.18" width="21.9" height="4.7" fill="#000"/>
<text x="1012" y="1139.38" font-size="34" font-weight="bold" text-anchor="end" textLength="58.2" lengthAdjust="spacingAndGlyphs">500</text>
<rect x="1016.6" y="1298.95" width="21.9" height="4.7" fill="#000"/>
<text x="1012" y="1314.15" font-size="34" font-weight="bold" text-anchor="end" textLength="19.4" lengthAdjust="spacingAndGlyphs">0</text>
<rect x="1016.6" y="1299" width="329.4" height="4.6" fill="#000"/>
<rect x="1122.9" y="1301.3" width="4.6" height="20.5" fill="#000"/>
<rect x="1253.3" y="1301.3" width="4.6" height="20.5" fill="#000"/>
<rect x="1084" y="1284.9" width="81.1" height="16.4" fill="#d9d9d9" stroke="#000" stroke-width="4.8"/>
<rect x="1215.4" y="991.8" width="81" height="309.5" fill="#ff9f9f" stroke="#000" stroke-width="4.8"/>
<path d="M1255.8 967.2L1255.8 1011.5" stroke="#000" stroke-width="2.2" fill="none"/>
<path d="M1234.8 967.2L1276.8 967.2" stroke="#000" stroke-width="2.2" fill="none"/>
<path d="M1234.8 1011.5L1276.8 1011.5" stroke="#000" stroke-width="2.2" fill="none"/>
<path d="M1125.2 1279.2L1125.2 1287" stroke="#000" stroke-width="2.2" fill="none"/>
<path d="M1103.8 1279.2L1146.6 1279.2" stroke="#000" stroke-width="2.2" fill="none"/>
<path d="M1103.8 1287L1146.6 1287" stroke="#000" stroke-width="2.2" fill="none"/>
<circle cx="1255.9" cy="944" r="10.3"/>
<circle cx="1236" cy="1017.5" r="10.3"/>
<circle cx="1276" cy="1009" r="10.3"/>
<path d="M1125.2 1265.2L1135.5 1283.8H1114.9Z"/>
<path d="M1091.5 1276.7L1101.8 1295.3H1081.2Z"/>
<path d="M1158.5 1276.7L1168.8 1295.3H1148.2Z"/>
<path d="M1124.7 927.2V854.4H1255.4V885.7" fill="none" stroke="#000" stroke-width="7.4" stroke-linejoin="miter"/>
<text x="1110" y="829.2" font-size="37.5" textLength="158" lengthAdjust="spacingAndGlyphs">p=0.0002</text>
<text transform="translate(1125.7 1347) rotate(-45)" x="0" y="11.56" font-size="33.5" text-anchor="end" font-weight="bold" stroke="#000" stroke-width="0.6" stroke-linejoin="round" textLength="79" lengthAdjust="spacingAndGlyphs">siCtrl</text>
<text transform="translate(1256.1 1347) rotate(-45)" x="0" y="11.56" font-size="33.5" text-anchor="end" font-weight="bold" stroke="#000" stroke-width="0.6" stroke-linejoin="round" textLength="127" lengthAdjust="spacingAndGlyphs">siSOX13</text>
</g>
<g id="pD">
<text transform="translate(2.5 1563.8) scale(0.94 1)" x="0" y="0" font-size="36.2" font-weight="bold">D</text>
<text transform="translate(33.2 1909.6) rotate(-90)" x="0" y="0" font-size="42.5" font-weight="bold" textLength="145.6" lengthAdjust="spacingAndGlyphs">CXCL10</text>
<text transform="translate(95.3 2054.1) rotate(-90)" x="0" y="0" font-size="41" font-weight="bold" textLength="277.5" lengthAdjust="spacingAndGlyphs">Concentration</text>
<text transform="translate(95.3 1763.8) rotate(-90)" x="0" y="0" font-size="41" font-weight="bold" textLength="146" lengthAdjust="spacingAndGlyphs">(pg/ml)</text>
<rect x="220.85" y="1586" width="5.9" height="502.7" fill="#000"/>
<rect x="202.5" y="1586" width="21.3" height="5" fill="#000"/>
<text x="197.4" y="1601.35" font-size="34" font-weight="bold" text-anchor="end" textLength="77.6" lengthAdjust="spacingAndGlyphs">4000</text>
<rect x="202.5" y="1710.4" width="21.3" height="5" fill="#000"/>
<text x="197.4" y="1725.75" font-size="34" font-weight="bold" text-anchor="end" textLength="77.6" lengthAdjust="spacingAndGlyphs">3000</text>
<rect x="202.5" y="1834.8" width="21.3" height="5" fill="#000"/>
<text x="197.4" y="1850.15" font-size="34" font-weight="bold" text-anchor="end" textLength="77.6" lengthAdjust="spacingAndGlyphs">2000</text>
<rect x="202.5" y="1959.2" width="21.3" height="5" fill="#000"/>
<text x="197.4" y="1974.55" font-size="34" font-weight="bold" text-anchor="end" textLength="77.6" lengthAdjust="spacingAndGlyphs">1000</text>
<rect x="202.5" y="2083.6" width="21.3" height="5" fill="#000"/>
<text x="197.4" y="2098.95" font-size="34" font-weight="bold" text-anchor="end" textLength="19.4" lengthAdjust="spacingAndGlyphs">0</text>
<rect x="202.4" y="2083.3" width="497.6" height="5.6" fill="#000"/>
<rect x="316.3" y="2086.1" width="4.6" height="20.5" fill="#000"/>
<rect x="457.7" y="2086.1" width="4.6" height="20.5" fill="#000"/>
<rect x="600.2" y="2086.1" width="4.6" height="20.5" fill="#000"/>
<rect x="273.7" y="2001.7" width="89.9" height="84.4" fill="#fff" stroke="#000" stroke-width="4.8"/>
<rect x="415" y="2008.4" width="90.6" height="77.7" fill="#ffe0e0" stroke="#000" stroke-width="4.8"/>
<rect x="557.6" y="1693.1" width="89.5" height="393" fill="#c8ffc8" stroke="#000" stroke-width="4.6"/>
<path d="M318.6 1992.4L318.6 2006" stroke="#000" stroke-width="2.2" fill="none"/>
<path d="M295.6 1992.4L341.6 1992.4" stroke="#000" stroke-width="2.2" fill="none"/>
<path d="M295.6 2006L341.6 2006" stroke="#000" stroke-width="2.2" fill="none"/>
<path d="M460.5 1997.2L460.5 2014" stroke="#000" stroke-width="2.2" fill="none"/>
<path d="M437.5 1997.2L483.5 1997.2" stroke="#000" stroke-width="2.2" fill="none"/>
<path d="M437.5 2014L483.5 2014" stroke="#000" stroke-width="2.2" fill="none"/>
<path d="M602.8 1684.7L602.8 1697" stroke="#000" stroke-width="2.2" fill="none"/>
<path d="M590.8 1684.7L614.8 1684.7" stroke="#000" stroke-width="2.2" fill="none"/>
<path d="M590.8 1697L614.8 1697" stroke="#000" stroke-width="2.2" fill="none"/>
<circle cx="281.3" cy="1991.9" r="10.3"/>
<circle cx="306.5" cy="1976.4" r="10.3"/>
<circle cx="306.5" cy="2000.7" r="10.3"/>
<circle cx="306.5" cy="2034.2" r="10.3"/>
<circle cx="331.1" cy="1988.9" r="10.3"/>
<circle cx="331.1" cy="2018.5" r="10.3"/>
<circle cx="356.3" cy="1988" r="10.3"/>
<rect x="450.9" y="1945.4" width="20" height="20"/>
<rect x="450.9" y="1987.8" width="20" height="20"/>
<rect x="450.9" y="2011.5" width="20" height="20"/>
<rect x="488.5" y="1987.8" width="20" height="20"/>
<rect x="488.5" y="2020.4" width="20" height="20"/>
<rect x="413" y="2011" width="20" height="20"/>
<rect x="430.7" y="2006" width="20" height="20"/>
<rect x="469.3" y="2007" width="20" height="20"/>
<rect x="421" y="2006" width="20" height="20"/>
<path d="M602.8 1650.2L613 1669H592.6Z"/>
<path d="M622 1668.6L632.2 1687.4H611.8Z"/>
<path d="M584 1679.6L594.2 1698.4H573.8Z"/>
<path d="M622 1689.6L632.2 1708.4H611.8Z"/>
<path d="M602.8 1692.2L613 1711H592.6Z"/>
<path d="M565.5 1694.8L575.7 1713.6H555.3Z"/>
<path d="M640.7 1698.8L650.9 1717.6H630.5Z"/>
<path d="M306.6 1629.3V1590H602.3V1629.3" fill="none" stroke="#000" stroke-width="7.4" stroke-linejoin="miter"/>
<text x="382.8" y="1564.1" font-size="33.5" textLength="141.5" lengthAdjust="spacingAndGlyphs">p&lt;0.0001</text>
<text transform="translate(321.6 2133.5) rotate(-45)" x="0" y="11.56" font-size="33.5" text-anchor="end" font-weight="bold" stroke="#000" stroke-width="0.6" stroke-linejoin="round" textLength="150" lengthAdjust="spacingAndGlyphs">siCtrl ULS</text>
<text transform="translate(463 2133.5) rotate(-45)" x="0" y="11.56" font-size="33.5" text-anchor="end" font-weight="bold" stroke="#000" stroke-width="0.6" stroke-linejoin="round" textLength="156.5" lengthAdjust="spacingAndGlyphs">siCtrl OSS</text>
<text transform="translate(605.5 2133.5) rotate(-45)" x="0" y="11.56" font-size="33.5" text-anchor="end" font-weight="bold" stroke="#000" stroke-width="0.6" stroke-linejoin="round" textLength="199" lengthAdjust="spacingAndGlyphs">siSOX13 ULS</text>
</g>
<g id="pE">
<text transform="translate(806.7 1563.8) scale(0.94 1)" x="0" y="0" font-size="36.2" font-weight="bold">E</text>
<text transform="translate(840.7 1963.4) rotate(-90)" x="0" y="0" font-size="42.5" font-weight="bold" textLength="111.4" lengthAdjust="spacingAndGlyphs">Static</text>
<text transform="translate(840.7 1840.9) rotate(-90)" x="0" y="0" font-size="42.5" font-weight="bold" textLength="145.6" lengthAdjust="spacingAndGlyphs">CXCL10</text>
<text transform="translate(903.2 2048.9) rotate(-90)" x="0" y="0" font-size="41" font-weight="bold" textLength="277.5" lengthAdjust="spacingAndGlyphs">Concentration</text>
<text transform="translate(903.2 1756) rotate(-90)" x="0" y="0" font-size="41" font-weight="bold" textLength="146" lengthAdjust="spacingAndGlyphs">(pg/ml)</text>
<rect x="1034.7" y="1574" width="6.2" height="513.5" fill="#000"/>
<rect x="1016.6" y="1574" width="21.2" height="5.4" fill="#000"/>
<text x="1011.4" y="1589.55" font-size="34" font-weight="bold" text-anchor="end" textLength="77.6" lengthAdjust="spacingAndGlyphs">4000</text>
<rect x="1016.6" y="1701.05" width="21.2" height="5.4" fill="#000"/>
<text x="1011.4" y="1716.6" font-size="34" font-weight="bold" text-anchor="end" textLength="77.6" lengthAdjust="spacingAndGlyphs">3000</text>
<rect x="1016.6" y="1828.1" width="21.2" height="5.4" fill="#000"/>
<text x="1011.4" y="1843.65" font-size="34" font-weight="bold" text-anchor="end" textLength="77.6" lengthAdjust="spacingAndGlyphs">2000</text>
<rect x="1016.6" y="1955.15" width="21.2" height="5.4" fill="#000"/>
<text x="1011.4" y="1970.7" font-size="34" font-weight="bold" text-anchor="end" textLength="77.6" lengthAdjust="spacingAndGlyphs">1000</text>
<rect x="1016.6" y="2082.2" width="21.2" height="5.4" fill="#000"/>
<text x="1011.4" y="2097.75" font-size="34" font-weight="bold" text-anchor="end" textLength="19.4" lengthAdjust="spacingAndGlyphs">0</text>
<rect x="1016.6" y="2081.7" width="329.4" height="6.4" fill="#000"/>
<rect x="1122.9" y="2084.9" width="4.6" height="20.5" fill="#000"/>
<rect x="1253.3" y="2084.9" width="4.6" height="20.5" fill="#000"/>
<rect x="1084" y="2045" width="81.1" height="39.9" fill="#d9d9d9" stroke="#000" stroke-width="4.8"/>
<rect x="1214.9" y="1692.4" width="81.5" height="392.5" fill="#ff9f9f" stroke="#000" stroke-width="4.8"/>
<path d="M1255.8 1658.5L1255.8 1722" stroke="#000" stroke-width="2.2" fill="none"/>
<path d="M1234.8 1658.5L1276.8 1658.5" stroke="#000" stroke-width="2.2" fill="none"/>
<path d="M1234.8 1722L1276.8 1722" stroke="#000" stroke-width="2.2" fill="none"/>
<path d="M1125.2 2039.3L1125.2 2046" stroke="#000" stroke-width="2.2" fill="none"/>
<path d="M1104.2 2039.3L1146.2 2039.3" stroke="#000" stroke-width="2.2" fill="none"/>
<path d="M1104.2 2046L1146.2 2046" stroke="#000" stroke-width="2.2" fill="none"/>
<circle cx="1255.8" cy="1625.7" r="10.3"/>
<circle cx="1236" cy="1722" r="10.3"/>
<circle cx="1275.3" cy="1722" r="10.3"/>
<path d="M1125.2 2026.9L1135.5 2045.5H1114.9Z"/>
<path d="M1090.7 2037.7L1101 2056.3H1080.4Z"/>
<path d="M1158 2031.9L1168.3 2050.5H1147.7Z"/>
<path d="M1123.9 1655.6V1560.1H1255.8V1583" fill="none" stroke="#000" stroke-width="7.4" stroke-linejoin="miter"/>
<text x="1109.6" y="1532.4" font-size="37.5" textLength="158.5" lengthAdjust="spacingAndGlyphs">p=0.0004</text>
<text transform="translate(1125.7 2131) rotate(-45)" x="0" y="11.56" font-size="33.5" text-anchor="end" font-weight="bold" stroke="#000" stroke-width="0.6" stroke-linejoin="round" textLength="79" lengthAdjust="spacingAndGlyphs">siCtrl</text>
<text transform="translate(1256.1 2131) rotate(-45)" x="0" y="11.56" font-size="33.5" text-anchor="end" font-weight="bold" stroke="#000" stroke-width="0.6" stroke-linejoin="round" textLength="127" lengthAdjust="spacingAndGlyphs">siSOX13</text>
</g>
</svg>
</body></html>
